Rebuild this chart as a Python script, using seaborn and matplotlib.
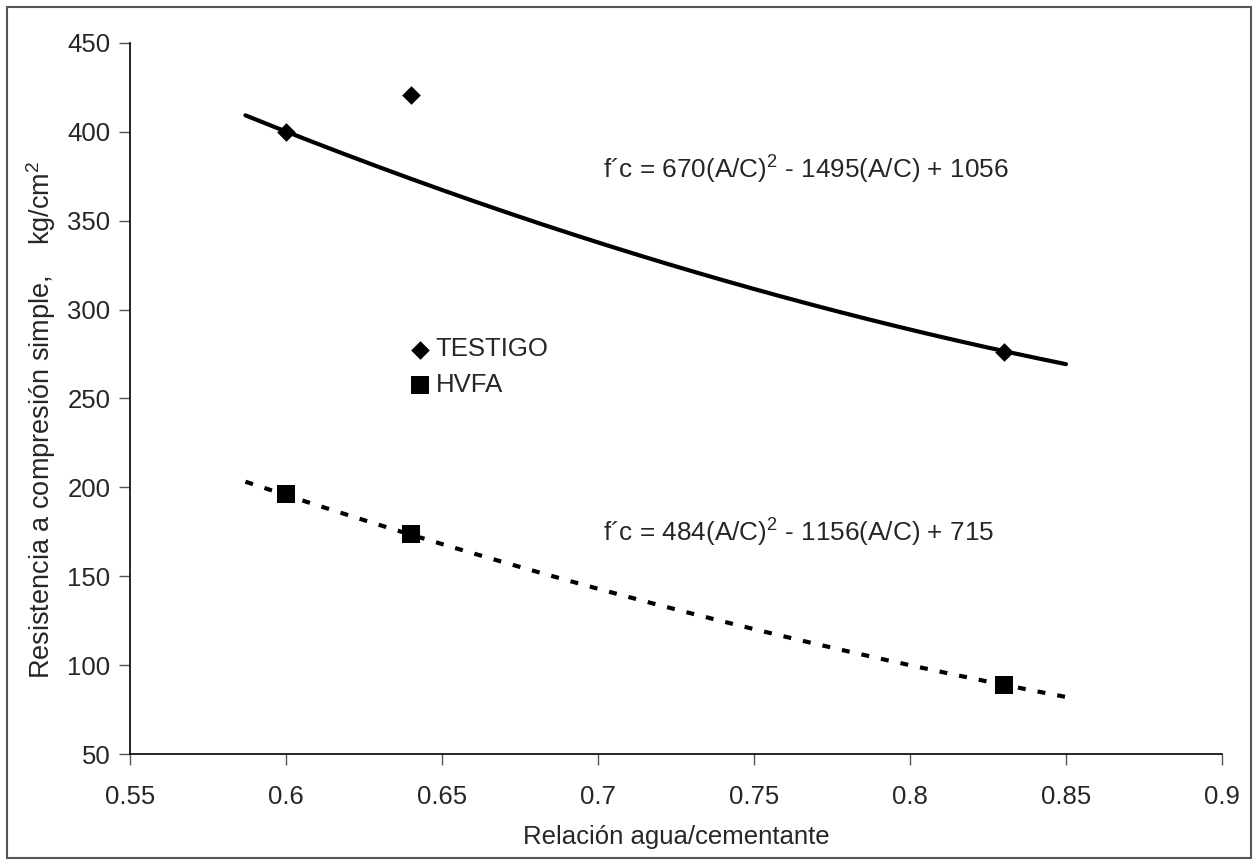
import numpy as np
import pandas as pd
import matplotlib
matplotlib.use("Agg")
import matplotlib.pyplot as plt
import seaborn as sns
from matplotlib.patches import Rectangle

# ---- data ----
ac_ratio = [0.60, 0.64, 0.83]
testigo = [400, 421, 276]
hvfa = [196, 174, 89]
series_names = ["TESTIGO", "HVFA"]
coef_testigo = [670, -1495, 1056]
coef_hvfa = [484, -1156, 715]
trend_range = [0.587, 0.85]
x_ticks = [0.55, 0.6, 0.65, 0.7, 0.75, 0.8, 0.85, 0.9]
y_ticks = [50, 100, 150, 200, 250, 300, 350, 400, 450]
eq_testigo = "f\u00b4c = 670(A/C)$^{2}$ - 1495(A/C) + 1056"
eq_hvfa = "f\u00b4c = 484(A/C)$^{2}$ - 1156(A/C) + 715"

sns.set_theme(style="white")
plt.rcParams["font.family"] = ["Liberation Sans", "DejaVu Sans"]
plt.rcParams["mathtext.fontset"] = "custom"
plt.rcParams["mathtext.rm"] = "Liberation Sans"
plt.rcParams["mathtext.it"] = "Liberation Sans"
plt.rcParams["mathtext.default"] = "rm"

fig = plt.figure(figsize=(12.53, 8.6), dpi=100)
ax = fig.add_axes([130 / 1253, 1 - 754 / 860, (1222 - 130) / 1253, (754 - 43) / 860])

# trend lines
xs = np.linspace(trend_range[0], trend_range[1], 200)
tr = pd.DataFrame({"x": xs,
                   "t": np.polyval(coef_testigo, xs),
                   "h": np.polyval(coef_hvfa, xs)})
sns.lineplot(data=tr, x="x", y="t", ax=ax, color="black", lw=3.0, legend=False)
sns.lineplot(data=tr, x="x", y="h", ax=ax, color="black", lw=3.0, legend=False,
             linestyle=(0, (1.9, 2.9)))

pts = pd.DataFrame({"x": ac_ratio, "TESTIGO": testigo, "HVFA": hvfa})
sns.scatterplot(data=pts, x="x", y="TESTIGO", ax=ax, marker="D", s=90, color="black",
                edgecolor="black", linewidth=0, label=series_names[0], zorder=5)
sns.scatterplot(data=pts, x="x", y="HVFA", ax=ax, marker="s", s=150, color="black",
                edgecolor="black", linewidth=0, label=series_names[1], zorder=5)

ax.set_xlim(0.55, 0.9)
ax.set_ylim(50, 450)
ax.set_xticks(x_ticks)
ax.set_xticklabels([f"{v:g}" for v in x_ticks])
ax.set_yticks(y_ticks)
ax.set_yticklabels([str(v) for v in y_ticks])
ax.tick_params(axis="both", labelsize=18.5, direction="out", length=8, width=1,
               color="#555555", left=True, bottom=True, pad=6)
ax.tick_params(axis="x", pad=14)
for s in ["top", "right"]:
    ax.spines[s].set_visible(False)
for s in ["left", "bottom"]:
    ax.spines[s].set_color("black")
    ax.spines[s].set_linewidth(1.2)

ax.set_xlabel("Relación agua/cementante", fontsize=18.5, labelpad=12)
ax.set_ylabel("Resistencia a compresión simple,    kg/cm$^{2}$", fontsize=19.5)
ax.yaxis.set_label_coords(-0.066, 0.47)

leg = ax.legend(frameon=False, loc="center left", bbox_to_anchor=(0.242, 0.544),
                fontsize=18.5, handletextpad=0.0, labelspacing=0.45, handlelength=1.2,
                borderaxespad=0)

ax.annotate(eq_testigo, xy=(603, 860 - 170), xycoords="figure pixels",
            fontsize=18.8, va="center", ha="left")
ax.annotate(eq_hvfa, xy=(603, 860 - 533), xycoords="figure pixels",
            fontsize=18.8, va="center", ha="left")

fig.patches.append(Rectangle((7 / 1253, 2 / 860), 1244 / 1253, 851 / 860,
                             transform=fig.transFigure, fill=False,
                             edgecolor="#555555", linewidth=1.5))

fig.savefig("out.png", dpi=100, facecolor="white")
